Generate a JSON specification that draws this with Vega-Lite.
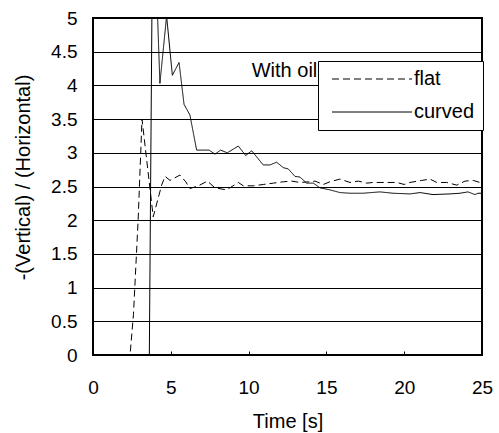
{
  "$schema": "https://vega.github.io/schema/vega-lite/v6.json",
  "autosize": "none",
  "width": 389,
  "height": 337,
  "padding": {"left": 93, "top": 18, "right": 17, "bottom": 78},
  "background": "white",
  "config": {
    "view": {"stroke": "#000", "strokeWidth": 2},
    "font": "Liberation Sans",
    "axis": {"labelFont": "Liberation Sans", "titleFont": "Liberation Sans", "labelColor": "#000", "titleColor": "#000", "titleFontWeight": "normal"}
  },
  "datasets": {
    "series": [
      {"t": 1.9, "v": 0, "s": "flat"},
      {"t": 2.38, "v": 0, "s": "flat"},
      {"t": 2.6, "v": 0.6, "s": "flat"},
      {"t": 2.9, "v": 2.0, "s": "flat"},
      {"t": 3.15, "v": 3.5, "s": "flat"},
      {"t": 3.87, "v": 2.05, "s": "flat"},
      {"t": 4.41, "v": 2.52, "s": "flat"},
      {"t": 4.63, "v": 2.65, "s": "flat"},
      {"t": 4.95, "v": 2.59, "s": "flat"},
      {"t": 5.59, "v": 2.67, "s": "flat"},
      {"t": 5.96, "v": 2.57, "s": "flat"},
      {"t": 6.23, "v": 2.47, "s": "flat"},
      {"t": 6.77, "v": 2.51, "s": "flat"},
      {"t": 7.35, "v": 2.58, "s": "flat"},
      {"t": 7.84, "v": 2.48, "s": "flat"},
      {"t": 8.59, "v": 2.45, "s": "flat"},
      {"t": 9.34, "v": 2.56, "s": "flat"},
      {"t": 9.66, "v": 2.51, "s": "flat"},
      {"t": 10.3, "v": 2.51, "s": "flat"},
      {"t": 10.94, "v": 2.53, "s": "flat"},
      {"t": 11.59, "v": 2.55, "s": "flat"},
      {"t": 12.23, "v": 2.57, "s": "flat"},
      {"t": 12.77, "v": 2.58, "s": "flat"},
      {"t": 13.3, "v": 2.56, "s": "flat"},
      {"t": 13.95, "v": 2.57, "s": "flat"},
      {"t": 14.27, "v": 2.58, "s": "flat"},
      {"t": 14.8, "v": 2.53, "s": "flat"},
      {"t": 15.23, "v": 2.57, "s": "flat"},
      {"t": 15.87, "v": 2.61, "s": "flat"},
      {"t": 16.52, "v": 2.56, "s": "flat"},
      {"t": 17.05, "v": 2.58, "s": "flat"},
      {"t": 17.59, "v": 2.55, "s": "flat"},
      {"t": 18.01, "v": 2.56, "s": "flat"},
      {"t": 18.88, "v": 2.56, "s": "flat"},
      {"t": 19.52, "v": 2.56, "s": "flat"},
      {"t": 20.0, "v": 2.53, "s": "flat"},
      {"t": 20.37, "v": 2.56, "s": "flat"},
      {"t": 21.12, "v": 2.59, "s": "flat"},
      {"t": 21.66, "v": 2.61, "s": "flat"},
      {"t": 22.09, "v": 2.56, "s": "flat"},
      {"t": 22.73, "v": 2.56, "s": "flat"},
      {"t": 23.38, "v": 2.52, "s": "flat"},
      {"t": 23.91, "v": 2.58, "s": "flat"},
      {"t": 24.44, "v": 2.59, "s": "flat"},
      {"t": 24.87, "v": 2.56, "s": "flat"},
      {"t": 25.0, "v": 2.56, "s": "flat"},
      {"t": 3.62, "v": 0, "s": "curved"},
      {"t": 3.85, "v": 7.0, "s": "curved"},
      {"t": 4.3, "v": 4.03, "s": "curved"},
      {"t": 4.73, "v": 5.03, "s": "curved"},
      {"t": 5.1, "v": 4.15, "s": "curved"},
      {"t": 5.53, "v": 4.34, "s": "curved"},
      {"t": 5.85, "v": 3.72, "s": "curved"},
      {"t": 6.23, "v": 3.56, "s": "curved"},
      {"t": 6.66, "v": 3.04, "s": "curved"},
      {"t": 7.46, "v": 3.04, "s": "curved"},
      {"t": 7.84, "v": 2.98, "s": "curved"},
      {"t": 8.2, "v": 3.04, "s": "curved"},
      {"t": 8.63, "v": 3.0, "s": "curved"},
      {"t": 9.34, "v": 3.1, "s": "curved"},
      {"t": 9.81, "v": 2.96, "s": "curved"},
      {"t": 10.2, "v": 3.03, "s": "curved"},
      {"t": 10.94, "v": 2.82, "s": "curved"},
      {"t": 11.38, "v": 2.82, "s": "curved"},
      {"t": 11.8, "v": 2.86, "s": "curved"},
      {"t": 12.23, "v": 2.78, "s": "curved"},
      {"t": 12.55, "v": 2.76, "s": "curved"},
      {"t": 12.98, "v": 2.65, "s": "curved"},
      {"t": 13.3, "v": 2.64, "s": "curved"},
      {"t": 13.73, "v": 2.55, "s": "curved"},
      {"t": 14.16, "v": 2.55, "s": "curved"},
      {"t": 14.59, "v": 2.48, "s": "curved"},
      {"t": 15.23, "v": 2.45, "s": "curved"},
      {"t": 15.87, "v": 2.41, "s": "curved"},
      {"t": 16.52, "v": 2.4, "s": "curved"},
      {"t": 17.35, "v": 2.4, "s": "curved"},
      {"t": 18.44, "v": 2.42, "s": "curved"},
      {"t": 19.28, "v": 2.4, "s": "curved"},
      {"t": 20.37, "v": 2.39, "s": "curved"},
      {"t": 21.02, "v": 2.41, "s": "curved"},
      {"t": 21.85, "v": 2.38, "s": "curved"},
      {"t": 22.94, "v": 2.39, "s": "curved"},
      {"t": 23.59, "v": 2.4, "s": "curved"},
      {"t": 24.1, "v": 2.42, "s": "curved"},
      {"t": 24.55, "v": 2.38, "s": "curved"},
      {"t": 24.74, "v": 2.4, "s": "curved"},
      {"t": 25.0, "v": 2.4, "s": "curved"}
    ],
    "note": [{"t": 10.2, "v": 4.21, "label": "With oil"}]
  },
  "encoding": {
    "x": {
      "field": "t", "type": "quantitative",
      "scale": {"domain": [0, 25], "nice": false, "zero": false},
      "axis": {"title": "Time [s]", "values": [0, 5, 10, 15, 20, 25], "grid": false, "domain": false,
               "tickSize": -4, "tickColor": "#000", "labelFontSize": 19, "titleFontSize": 20,
               "labelPadding": 27, "titlePadding": 14, "labelFlush": false}
    },
    "y": {
      "field": "v", "type": "quantitative",
      "scale": {"domain": [0, 5], "nice": false},
      "axis": {"title": "-(Vertical) / (Horizontal)", "values": [0, 0.5, 1, 1.5, 2, 2.5, 3, 3.5, 4, 4.5, 5],
               "format": "~g", "grid": true, "gridColor": "#000", "gridOpacity": 1, "gridWidth": 1,
               "labelOverlap": false,
               "domain": false, "ticks": false, "labelFontSize": 19, "titleFontSize": 20,
               "labelPadding": 16, "titleX": -70, "titleY": 159, "titleAngle": 270,
               "titleAlign": "center", "titleBaseline": "middle"}
    }
  },
  "layer": [
    {
      "data": {"name": "series"},
      "mark": {"type": "line", "clip": true, "color": "#000", "strokeWidth": 1},
      "encoding": {
        "strokeDash": {
          "field": "s", "type": "nominal",
          "scale": {"domain": ["flat", "curved"], "range": [[7, 4], [1, 0]]},
          "legend": {"title": null, "orient": "none", "legendX": 225, "legendY": 43,
                     "fillColor": "white", "strokeColor": "#000", "padding": 8,
                     "symbolType": "M-8,0H8", "symbolSize": 100, "symbolStrokeWidth": 1,
                     "symbolStrokeColor": "#000", "symbolOffset": 36,
                     "labelFontSize": 20, "labelFont": "Liberation Sans",
                     "labelColor": "#000", "labelOffset": 32, "rowPadding": 13,
                     "labelExpr": "datum.label + '  '"}
        }
      }
    },
    {
      "data": {"name": "note"},
      "mark": {"type": "text", "align": "left", "baseline": "middle", "fontSize": 20, "font": "Liberation Sans", "color": "#000"},
      "encoding": {
        "text": {"field": "label"}
      }
    }
  ]
}
